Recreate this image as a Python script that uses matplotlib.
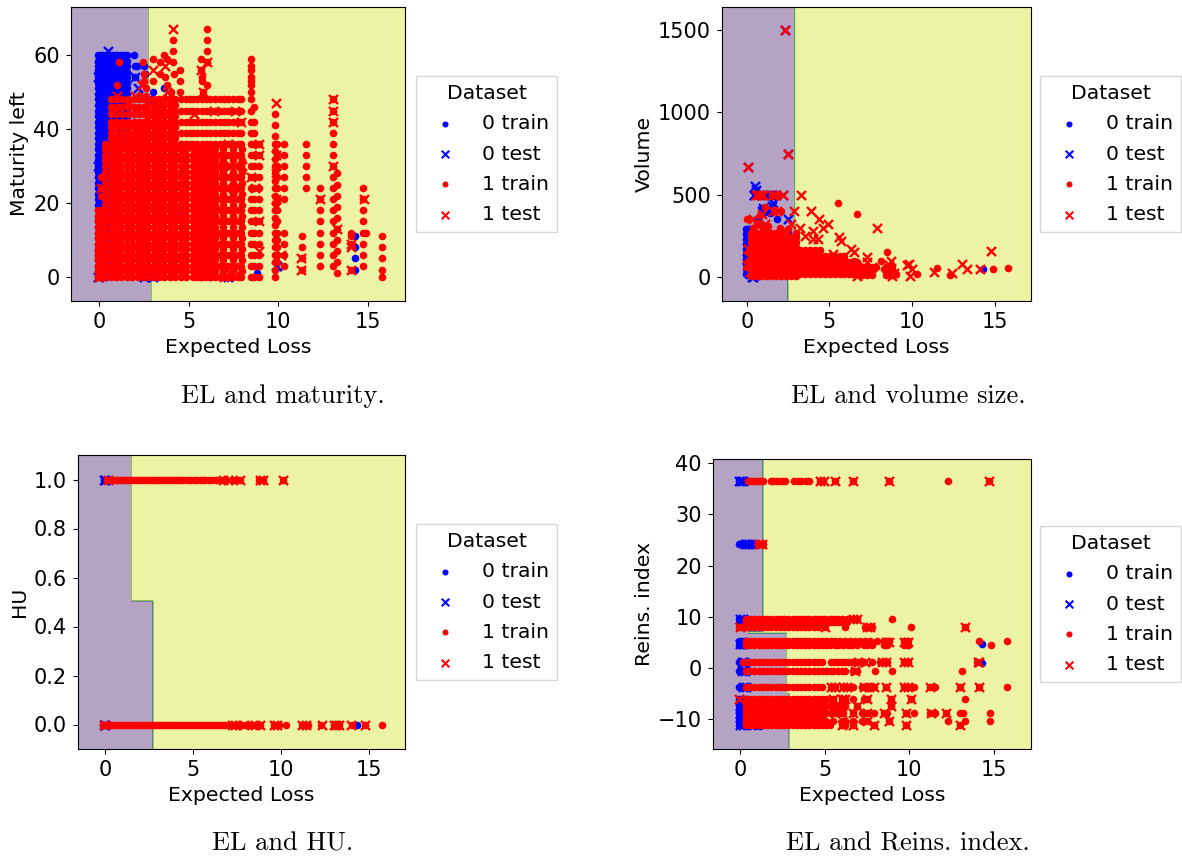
import numpy as np
import matplotlib
matplotlib.use("Agg")
import matplotlib.pyplot as plt

W, H = 1182, 856
XLABEL = "Expected Loss"
LABELS = ["0 train", "0 test", "1 train", "1 test"]
CAPTIONS = ["EL and maturity.", "EL and volume size.", "EL and HU.", "EL and Reins. index."]
YLABELS = ["Maturity left", "Volume", "HU", "Reins. index"]

# ---------- Panel 1: maturity ----------
m_y_all = [0,1.5,3,4.5,6,7.5,9,10.5,12,13.5,15,16.5,18,19.5,21,22.5,24,25.5,27,28.5,30,31.5,33,34.5,36]
m_y_top = [37.5,39,40.5,42,43.5,45,46.5,48]
m_y_upper = [37.5,39,40.5,42,44,46,48]
m_y_blue = [49.5,51,52.5,54,55.5,57,58.5,60]
m_y_low = [0,1.5,3,4.5,6,7.5,9,10.5,12,13.5,15,16.5,18]
m_y_3 = [0,3,6,9,12,15,18,21,24,27,30,33,36,39,42,45,48]
m_y_off = [1.5,4.5,7.5,10.5,13.5,16.5,19.5,22.5,25.5,28.5,31.5,34.5]
m_solid_x = [0.35,0.65,0.95,1.25,1.55,1.85,2.15,2.45,2.75,3.05,3.35,3.65,3.95,4.25,4.55,4.85]
m_top_x = [2.75,3.05,3.35,3.65,3.95,4.25]
m_upper_x = [0.65,0.95,1.3,1.6,1.95,2.25,2.5]
m_sparse_top_x = [4.55,4.85,5.1]
m_mid_x = [5.25,5.45,5.75,5.95,6.2,6.45,6.75,7.0,7.2,7.5,7.75,7.95]
m_off_x = [5.25,5.45,5.75,5.95,6.2,6.45,6.9,7.5,8.0]
m_blue_left_x = [-0.05,0.1,0.25,0.4]
m_blue_top_x = [0.55,0.7,0.85,1.0,1.15,1.3,1.45,1.55]

m_red_cols = [
    (-0.05, m_y_low), (0.1, m_y_low), (0.22, m_y_low), (8.5, [0,3,6,9,12,15,18,21,24,27,30,33,36,39,42,45,48,50,52,53,54,56,57,59]),
    (8.65, [0,3,6,9,12,15,18,21,24,27,30,33,36,39,42,46]), (8.9, [0,3,6,9,12,15,18,21,24,27,30,33,36]),
    (9.8, [0,2,4,6,8,10,12,14,16,18,20,22,24,26,28,30,32,34,36,38,41,44]), (9.95, [4,6,8,10,12,15,18,21,24,27,30,33,36]),
    (10.3, [3,6,9,12,21,24,27,30,33,36]), (11.3, [2,5,8,11]), (11.55, [24,27,30,33,36]),
    (12.35, [3,6,9,12,15,18,21,24]), (13.05, [3,6,9,12,15,18,21,24,27,30,33,36,39,42,45,48]),
    (13.25, [1,4,7,10,13,16,19,22,25,28]), (14.05, [2,9,11,12]), (14.75, [3,6,9,12,15,18,21,24]),
    (14.9, [12]), (15.8, [0,2,5,8,11]),
]
m_red_x = [1.1,1.0,2.45,2.5,2.5,2.6,3.0,3.0,3.4,3.4,3.6,3.8,3.7,4.15,4.15,4.15,4.2,4.5,4.5,3.8,4.0,4.5,6.0,6.0,6.0,6.0,5.7,5.7,5.75,5.75,6.0,5.8,0.1,0.1,0.1,1.6,2.0,2.3,2.6,0.7,1.0,1.2]
m_red_y = [58,52,58,55,53,51,59,53,55,58,60,59,54,64,61,58,55,56,53,52,50,50,67,64,61,58,59,56,54,53,52,50,27,24,22,47,45,49,49,45,48,46]
m_red_test_x = [4.15,6.0,5.7,5.8,3.0,2.4,3.7,3.8,0.1,0.0,0.0,9.85,13.05,13.05,13.05,13.05,8.9,8.9,12.35,14.8,13.3,14.05,14.05,14.05,11.25,11.25,7.2,7.6,7.9,8.9,9.85,10.15,7.0,7.3,7.6,5.7,6.9,8.5,9.9,9.85,9.85,8.7,8.9,7.5,8.0,6.4,6.7,6.1,5.3,3.9,2.0,1.0,0.1]
m_red_test_y = [67,58,56,50,56,52,57,50,24,0,6,47,48,45,42,30,36,33,21,21,13,9,8,2,5,2,36,45,42,15,21,6,0,1,2,34,30,27,33,28,19,24,7,24,30,45,12,21,44,48,49,49,13]
m_blue_extra_x = [1.95,2.0,2.1,2.0,2.5,2.55,3.0,3.6,2.6,2.8,3.0,2.9,3.2,5.7,6.2,6.2,14.3,14.3,14.3,14.3,8.8,7.3,4.6,4.7,6.9]
m_blue_extra_y = [60,57,57,54,57,55,50,51,0,0,0,48,0,0,0,1,11,8,5,2,1,0,17,28,21]
m_blue_test_x = [0.5,0.0,-0.05,2.0,2.2,2.7,6.2,6.2,6.25,9.85,9.95,0.3,0.15,2.5,3.0,7.2,5.8,-0.05,-0.05]
m_blue_test_y = [61,57,54,54,51,47,5,2,4,3,3,55,52,0,0,0,5,0,30]

# ---------- Panel 2: volume ----------
v_y_a = [5,35,65,95,125,155,185,215,245,265]
v_y_a2 = [5,35,65,95,125,155,185,215,240]
v_y_b = [15,45,75,105,135,165]
v_y_c = [15,45,75,105,130]
v_y_d = [15,40,65,90]
v_y_e = [10,35,60]
v_y_blue = [20,50,80,110,140,170,200,230,260,290]
v_x_a = [0.25,0.55,0.85,1.15,1.45,1.75,2.05]
v_x_a2 = [2.35,2.65,2.95]
v_x_b = [3.25,3.55,3.85,4.15,4.45]
v_x_c = [4.75,5.05,5.35,5.65,5.9]
v_x_d = [6.2,6.45,6.7]
v_x_e = [7.0,7.3,7.6,8.4,8.8]
v_x_blue = [-0.05,0.05,0.15,0.25,0.35]
v_red_x = [0.0,0.4,0.8,1.1,1.5,1.8,2.1,5.5,6.7,8.5,8.1,10.3,11.5,12.3,14.9,15.8,7.0,7.5,7.8,8.3,6.0,6.5,9.0,8.8,0.1,0.05,0.0,2.0,2.4,3.0,1.0,1.3,2.5,0.6]
v_red_y = [350,300,375,425,500,500,400,450,380,150,100,20,55,10,50,55,40,25,60,50,30,95,15,50,100,150,60,300,280,270,300,310,290,330]
v_red_test_x = [2.3,2.5,0.05,0.55,0.7,0.85,1.0,1.6,1.75,2.2,3.3,1.6,1.8,2.85,3.9,4.4,4.9,4.6,3.2,2.7,7.9,5.6,5.7,4.0,4.0,4.3,3.5,6.3,6.5,7.3,7.3,8.7,8.6,9.7,10.0,9.9,8.9,8.8,6.7,6.7,7.6,11.3,12.4,13.0,13.3,14.1,14.8,5.2,4.7,0.9,1.1,0.7,9.8,7.0,6.1,0.4,0.1,0.0,0.2]
v_red_test_y = [1500,750,665,500,500,500,500,500,500,500,500,400,400,400,400,350,320,300,300,320,300,240,220,280,230,230,250,170,150,120,90,100,70,75,50,5,25,5,60,5,60,30,25,80,50,50,155,140,90,380,320,310,80,40,70,350,170,70,30]
v_blue_x = [14.3,1.8,0.9,1.0,1.3,1.4,0.6,2.5,2.9]
v_blue_y = [50,350,420,400,500,390,340,270,230]
v_blue_test_x = [2.3,2.5,0.05,0.5,0.45,0.55,1.6,1.55,2.5,0.9,1.2,0.1,0.1,0.2,0.05,0.0,0.2,0.5,0.3,0.45,1.4,2.2,0.7,1.2,1.5,1.0,2.0,0.4,0.35]
v_blue_test_y = [1500,750,665,550,500,530,450,430,350,400,400,280,250,220,190,110,20,10,0,500,500,500,340,500,500,420,60,0,30]

# ---------- Panel 3: HU ----------
hu_1_x = [0.1,0.25,0.4,0.55,0.7,0.85,1.0,1.15,1.3,1.45,1.6,1.75,1.9,2.05,2.2,2.35,2.5,2.65,2.8,2.95,3.1,3.25,3.4,3.55,3.7,3.85,4.0,4.15,4.3,4.45,4.65,4.85,5.05,5.2,5.4,5.55,5.7,5.9,6.1,6.3,6.7,6.9,7.35,7.5,7.7,8.75,9.0,10.1]
hu_0_x = [-0.1,0.05,0.2,0.35,0.5,0.65,0.8,0.95,1.1,1.25,1.4,1.55,1.7,1.85,2.0,2.15,2.3,2.45,2.6,2.75,2.9,3.05,3.2,3.35,3.5,3.65,3.8,3.95,4.1,4.25,4.4,4.55,4.7,4.85,5.0,5.15,5.3,5.45,5.6,5.75,5.9,6.05,6.2,6.35,6.5,6.65,6.8,7.2,7.4,7.6,7.8,8.0,8.2,8.45,8.65,8.8,9.6,9.75,9.9,10.3,11.2,11.4,11.55,12.3,13.0,13.15,13.3,14.05,14.8,15.75]
hu_1_test_x = [6.7,7.0,7.7,8.8,9.0,10.1,0.2]
hu_0_test_x = [-0.05,7.2,7.4,7.9,8.5,8.8,9.6,9.8,11.2,11.4,12.35,13.0,13.15,13.3,14.0,14.75]
hu_blue_1_x = [-0.05,0.0]
hu_blue_0_x = [14.3,0.0,-0.1]
hu_blue_test_x = [-0.05,0.0]

# ---------- Panel 4: reinsurance index ----------
r_dense = [0.35,0.6,0.85,1.1,1.35,1.6,1.85,2.1,2.35,2.6,2.85,3.1,3.35,3.6,3.85,4.1,4.35,4.6,4.85]
r_rows = {
    "top": (36.5, [0.45,0.6,0.75,0.9,1.05,1.2,1.35,1.8,1.95,2.1,2.25,2.45,2.65,3.2,3.4,3.6,3.9,4.1,4.7,4.9,5.6,6.7,8.8,12.3,14.7]),
    "mid": (24.2, [1.05,1.2,1.35]),
    "r95": (9.5, r_dense + [5.05,5.3,5.55,5.8,6.05,6.3,6.7,6.9,9.0]),
    "r90": (8.9, r_dense + [5.05,5.3,5.55,5.8,6.05,6.3]),
    "r80": (8.0, [-0.05,0.1] + r_dense[:18] + [5.0,6.2,7.4,7.6,7.8,10.1,13.3]),
    "r52": (5.2, r_dense + [5.1,5.4,5.6,5.9,6.2,6.5,6.8,7.1,7.4,7.7,8.1,8.5,8.7,8.8,9.7,9.9,14.1,15.8]),
    "r45": (4.5, r_dense + [5.1,5.3,5.6,5.8,6.1,6.4,6.6,6.9,7.3,7.5,7.8,8.5,8.7,9.7,9.9,14.85]),
    "r10": (1.1, [0.2] + r_dense + [5.4,5.6,5.8,6.0,6.2,6.4,6.6,6.8,7.0,7.3,7.8,8.3,8.5,8.7,9.7,9.9,14.0]),
    "rn05": (-0.5, r_dense + [5.1,5.3,5.5,5.8,6.0,6.2,6.7,6.9,8.0,9.0,13.1]),
    "rn37": (-3.7, r_dense + [5.4,5.6,6.1,6.3,6.7,7.2,7.4,7.6,7.9,8.6,9.7,9.9,10.3,11.2,11.5,13.0,14.1,15.8]),
    "rn6": (-6.0, r_dense + [5.1,5.5,6.0,6.2,6.7,7.3,7.5,8.9,10.1,13.3]),
    "rn73": (-7.5, r_dense + [5.1,5.4,5.6,5.8,6.0,6.2,6.9,8.9]),
    "rn87": (-8.8, r_dense + [5.1,5.4,5.6,6.0,6.1,6.7,7.2,7.5,7.9,8.5,8.7,9.8,10.3,11.2,11.5,12.2,13.0,13.2,14.8]),
    "rn103": (-10.3, r_dense + [5.1,5.5,6.0,6.2,6.7,7.2,7.5,8.8,12.3,13.3,14.8]),
    "rn112": (-11.2, r_dense + [5.1,5.3,6.0,6.2,6.7,7.9,9.8,13.0]),
    "fill1": (-6.8, r_dense), "fill2": (-8.1, r_dense), "fill3": (-9.5, r_dense), "fill4": (-10.8, r_dense),
}
r_test_x = [1.1,1.3,4.7,4.95,5.6,6.7,8.8,14.7,6.7,6.9,5.0,7.5,7.7,13.3,8.6,8.8,9.7,9.9,14.1,7.0,7.4,8.4,8.6,9.7,9.9,14.05,6.8,5.4,5.6,6.1,6.3,7.3,7.6,7.9,8.6,9.7,9.9,11.2,13.0,14.1,-0.05,5.5,6.0,6.2,7.5,8.9,10.1,6.9,8.9,5.6,6.0,6.7,7.5,8.5,9.8,11.3,12.2,7.5,8.8,6.0,6.7,7.9,9.8,13.0,0.0]
r_test_y = [24.2,24.2,36.5,36.5,36.5,36.5,36.5,36.5,9.5,9.5,8,8,8,8,5,5,5,5,1.1,1.1,1.1,1.1,1.1,1.1,1.1,1.1,-0.5,-3.7,-3.7,-3.7,-3.7,-3.7,-3.7,-3.7,-3.7,-3.7,-3.7,-3.7,-3.7,-3.7,-6,-6,-6,-6,-6,-6,-6,-7.5,-7.5,-8.8,-8.8,-8.8,-8.8,-8.8,-8.8,-8.8,-8.8,-10.3,-10.3,-11.2,-11.2,-11.2,-11.2,-11.2,8]
r_blue_rows = [36.5,24.2,9.5,8.7,5.2,4.5,1.1,-0.5,-3.7,-6.0,-7.0,-8.0,-8.8,-9.5,-10.3,-11.2]
r_blue_x = [-0.05,0.1,0.25,0.4]
r_blue_test_x = [-0.05,0.05,0.15,0.3,0.4,0.55,0.7,0.0,0.2,0.0,0.2,0.1,0.25,0.1,0.3,0.15,0.35,0.0,0.15,0.0,0.15,0.0,0.2]
r_blue_test_y = [36.5,36.5,36.5,24.2,24.2,24.2,24.2,9.5,9.5,4.7,4.7,1.1,1.1,-0.5,-0.5,-3.7,-3.7,-8.0,-8.0,-9.0,-9.0,-11.2,-11.2]
r_blue_single_x = [14.3,14.3,0.0,-0.05,0.1,0.5,0.9,1.2,4.6,4.4,9.9,7.2,6.9]
r_blue_single_y = [4.6,1.0,-0.5,-8.0,-7.0,-11.4,-11.4,-11.4,-10.0,-10.3,4.5,1.1,1.2]

# ---------- Decision regions (boundary on EL per feature band) ----------
boundary = {
    0: ([-1.4, 73], [2.95, 2.77]),
    1: ([100, 1640], [2.5, 2.92]),
    2: ([0.505, 1.1], [2.75, 1.5]),
    3: ([-5, 6.8, 7.0, 40.8], [2.9, 2.75, 0.5, 1.35]),
}

def flatten(cols):
    xs, ys = [], []
    for x, vals in cols:
        for v in vals:
            xs.append(x)
            ys.append(v)
    return xs, ys

m_red_all = [(x, m_y_all) for x in m_solid_x] + [(x, m_y_top) for x in m_top_x] \
    + [(x, m_y_upper) for x in m_upper_x] + [(x, m_y_3[12:]) for x in m_sparse_top_x] \
    + [(x, m_y_3) for x in m_mid_x] + [(x, m_y_off) for x in m_off_x] + m_red_cols
m_rx, m_ry = flatten(m_red_all)
m_bx, m_by = flatten([(x, m_y_all + m_y_top + m_y_blue) for x in m_blue_left_x] + [(x, m_y_top + m_y_blue) for x in m_blue_top_x])
vr_x, vr_y = flatten([(x, v_y_a) for x in v_x_a] + [(x, v_y_a2) for x in v_x_a2] + [(x, v_y_b) for x in v_x_b]
                     + [(x, v_y_c) for x in v_x_c] + [(x, v_y_d) for x in v_x_d] + [(x, v_y_e) for x in v_x_e])
vb_x, vb_y = flatten([(x, v_y_blue) for x in v_x_blue])
r_rx, r_ry = [], []
for yv, xs in r_rows.values():
    r_rx += xs
    r_ry += [yv] * len(xs)
r_bx, r_by = flatten([(x, r_blue_rows) for x in r_blue_x])

panels = [
    dict(box=(71, 7, 405, 301), xlim=(-1.56, 17.07), ylim=(-6.5, 73.0), yticks=[0, 20, 40, 60],
         blue=(m_bx + m_blue_extra_x, m_by + m_blue_extra_y), btest=(m_blue_test_x, m_blue_test_y),
         red=(m_rx + m_red_x, m_ry + m_red_y), rtest=(m_red_test_x, m_red_test_y), leg=(416, 76), cap=(283, 396), k=0),
    dict(box=(722, 7, 1031, 301), xlim=(-1.5, 17.2), ylim=(-146, 1640), yticks=[0, 500, 1000, 1500],
         blue=(vb_x + v_blue_x, vb_y + v_blue_y), btest=(v_blue_test_x, v_blue_test_y),
         red=(vr_x + v_red_x, vr_y + v_red_y), rtest=(v_red_test_x, v_red_test_y), leg=(1040, 76), cap=(908, 396), k=1),
    dict(box=(78, 455, 405, 749), xlim=(-1.53, 17.05), ylim=(-0.1, 1.1), yticks=[0, 0.2, 0.4, 0.6, 0.8, 1.0],
         blue=(hu_blue_1_x + hu_blue_0_x, [1, 1, 0, 0, 0]), btest=(hu_blue_test_x + hu_blue_test_x, [1, 1, 0, 0]),
         red=(hu_1_x + hu_0_x, [1] * len(hu_1_x) + [0] * len(hu_0_x)),
         rtest=(hu_1_test_x + hu_0_test_x, [1] * len(hu_1_test_x) + [0] * len(hu_0_test_x)), leg=(416, 524), cap=(283, 844), k=2),
    dict(box=(713, 459, 1031, 749), xlim=(-1.6, 17.2), ylim=(-15.8, 40.8), yticks=[-10, 0, 10, 20, 30, 40],
         blue=(r_bx + r_blue_single_x, r_by + r_blue_single_y), btest=(r_blue_test_x, r_blue_test_y),
         red=(r_rx, r_ry), rtest=(r_test_x, r_test_y), leg=(1040, 526), cap=(908, 844), k=3),
]

FS = 14.7
fig = plt.figure(figsize=(W / 100, H / 100), dpi=100)
for p in panels:
    l, t, r, b = p["box"]
    ax = fig.add_axes([l / W, 1 - b / H, (r - l) / W, (b - t) / H])
    xx = np.linspace(*p["xlim"], 500)
    yy = np.linspace(*p["ylim"], 500)
    gx, gy = np.meshgrid(xx, yy)
    edges, cuts = boundary[p["k"]]
    lim = np.full_like(gy, cuts[-1])
    for e, c in zip(edges[::-1], cuts[::-1]):
        lim[gy <= e] = c
    ax.contourf(gx, gy, (gx >= lim).astype(float), alpha=0.4)
    ax.scatter(*p["blue"], c="blue", marker="o", s=30, label=LABELS[0], linewidths=0)
    ax.scatter(*p["btest"], c="blue", marker="x", s=42, label=LABELS[1], linewidths=1.7)
    ax.scatter(*p["red"], c="red", marker="o", s=30, label=LABELS[2], linewidths=0)
    ax.scatter(*p["rtest"], c="red", marker="x", s=42, label=LABELS[3], linewidths=1.7)
    ax.set_xlim(p["xlim"])
    ax.set_ylim(p["ylim"])
    ax.set_xticks([0, 5, 10, 15])
    ax.set_yticks(p["yticks"])
    ax.tick_params(labelsize=15, length=3.5, width=0.8, pad=4.5)
    ax.set_xlabel(XLABEL, fontsize=FS, labelpad=4)
    ax.set_ylabel(YLABELS[p["k"]], fontsize=FS, labelpad=3)
    lx, ly = p["leg"]
    leg = ax.legend(title="Dataset", fontsize=FS, title_fontsize=FS, loc="upper left",
                    bbox_to_anchor=(lx / W, 1 - ly / H), bbox_transform=fig.transFigure,
                    borderaxespad=0, handletextpad=0.83, labelspacing=0.55, borderpad=0.4, fancybox=False)
    for hnd, size, lw in zip(leg.legend_handles, [19, 30, 19, 30], [0, 1.5, 0, 1.5]):
        hnd.set_sizes([size])
        hnd.set_linewidths([lw])
    fig.text(p["cap"][0] / W, 1 - p["cap"][1] / H, CAPTIONS[p["k"]], family="cmr10", fontsize=19,
             ha="center", va="center")
fig.savefig("out.png", dpi=100)
